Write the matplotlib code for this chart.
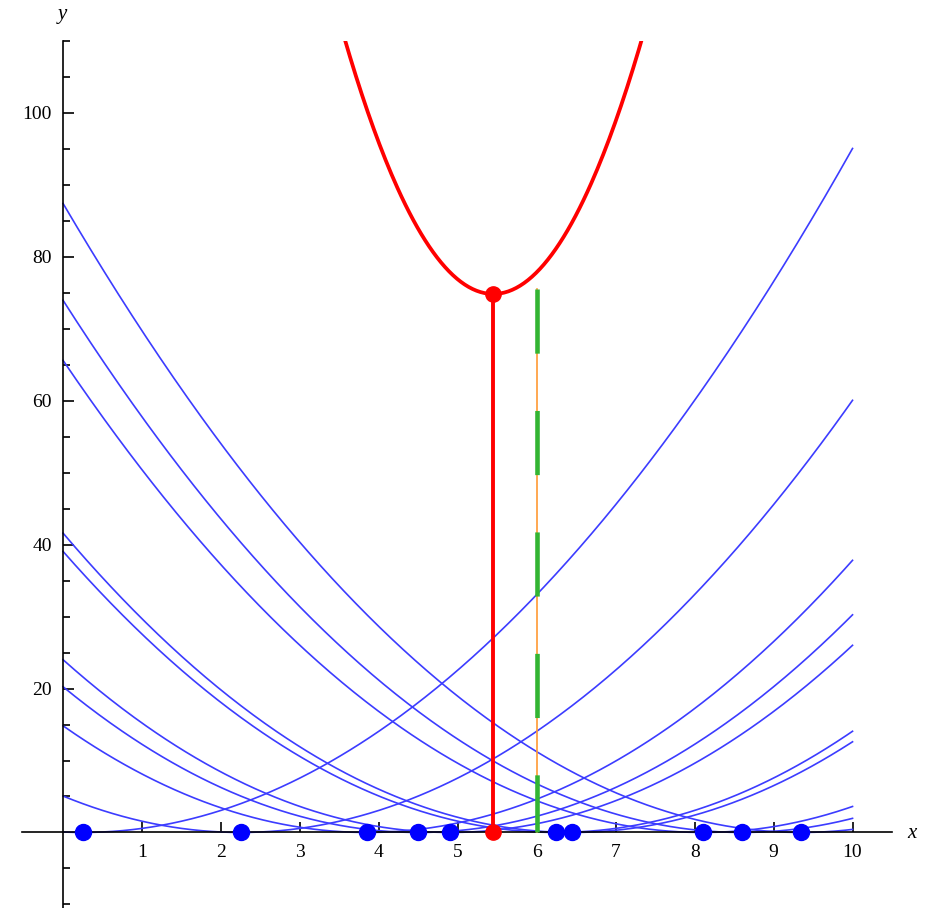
import numpy as np
import matplotlib.pyplot as plt

# sample points on the x axis
pts = [0.25, 2.25, 3.85, 4.5, 4.9, 6.25, 6.45, 8.1, 8.6, 9.35]

# guess line
guess_x = 6.0
guess_top = 75.5

x_ticks = [1, 2, 3, 4, 5, 6, 7, 8, 9, 10]
y_ticks = [20, 40, 60, 80, 100]

pts = np.array(pts)
mean = pts.mean()
xs = np.linspace(0, 10, 400)
total = sum((xs - a) ** 2 for a in pts)
min_val = ((pts - mean) ** 2).sum()

fig = plt.figure(figsize=(9.25, 9.08), dpi=100)
ax = fig.add_axes([22 / 925, 0.0, 870 / 925, 867 / 908])
plt.rcParams['font.family'] = 'Liberation Serif'

# blue parabolas
for a in pts:
    ax.plot(xs, (xs - a) ** 2, color='#3c3cff', lw=1.2, zorder=2)

# sum of squares
ax.plot(xs, total, color='red', lw=2.7, zorder=3)

# guess line: thin orange under green dashes
ax.plot([guess_x, guess_x], [guess_top, 0], color='#ff9a33', lw=1.2, zorder=3)
ax.plot([guess_x, guess_x], [guess_top, 0], color='#33b533', lw=3.3,
        linestyle=(0, (14.0, 12.5)), dash_capstyle='butt', zorder=4)

# minimum
ax.plot([mean, mean], [0, min_val], color='red', lw=2.8, zorder=4)
ax.plot([mean, mean], [0, min_val], 'o', color='red', ms=11, zorder=6)

# points
ax.plot(pts, np.zeros_like(pts), 'o', color='#0000ff', ms=11.5, zorder=5,
        clip_on=False)

ax.set_xlim(-0.52, 10.5)
ax.set_ylim(-10.5, 110)

for s in ['top', 'right']:
    ax.spines[s].set_visible(False)
ax.spines['left'].set_position(('data', 0))
ax.spines['bottom'].set_position(('data', 0))
ax.spines['left'].set_linewidth(1.2)
ax.spines['bottom'].set_linewidth(1.2)

ax.set_xticks(x_ticks)
ax.set_yticks(y_ticks)
ax.set_yticks([v for v in range(-10, 111, 5) if v not in y_ticks and v != 0],
              minor=True)
ax.tick_params(axis='both', direction='in', width=1.2, labelsize=14, pad=8)
ax.tick_params(axis='x', length=7)
ax.tick_params(axis='y', which='major', length=8)
ax.tick_params(axis='y', which='minor', length=5, width=1.2, direction='in')
for lab in ax.get_xticklabels() + ax.get_yticklabels():
    lab.set_family('Liberation Serif')

fig.text(912 / 925, 1 - 833 / 908, 'x', fontsize=15, style='italic',
         family='Liberation Serif', ha='center', va='center')
fig.text(62 / 925, 1 - 15 / 908, 'y', fontsize=15, style='italic',
         family='Liberation Serif', ha='center', va='center')

fig.savefig('out.png', dpi=100)
